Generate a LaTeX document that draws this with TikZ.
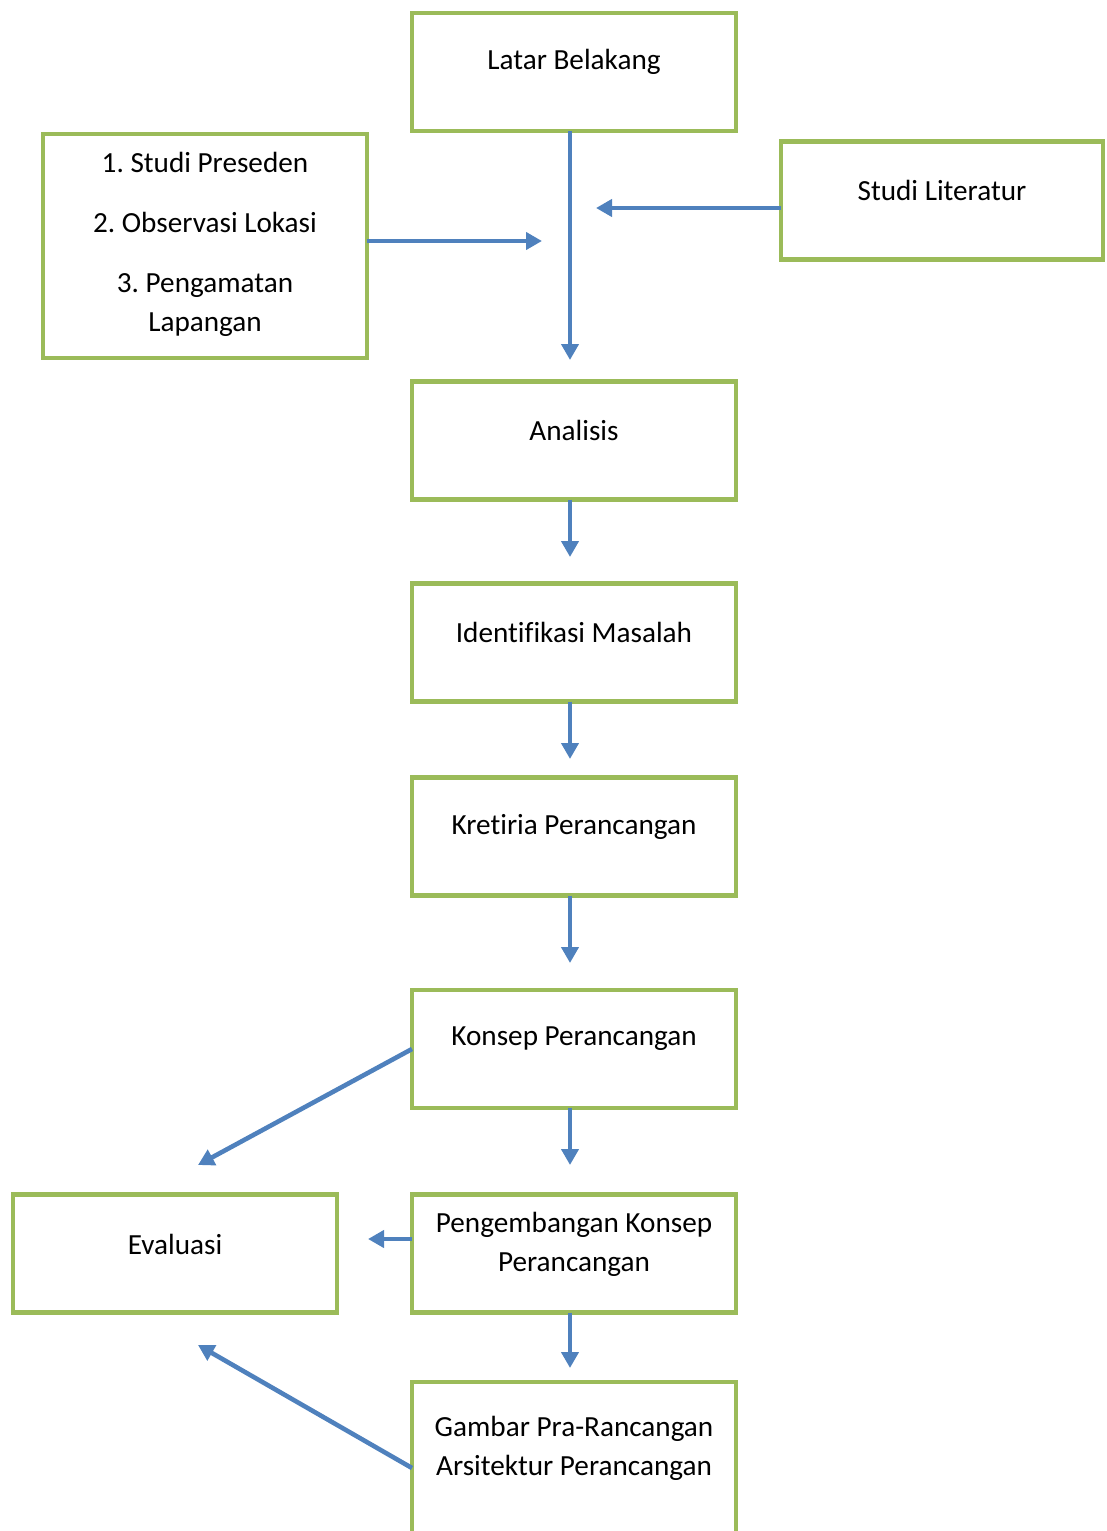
\documentclass[tikz,border=0pt]{standalone}
\usepackage{fontspec}
\setmainfont{Carlito}[Ligatures={NoCommon,NoContextual},RawFeature={-clig;-dlig}]
\usepackage{xcolor}
\definecolor{BoxGreen}{HTML}{9BBB59}
\definecolor{ArrowBlue}{HTML}{4F81BD}
\usetikzlibrary{positioning,arrows.meta}
\frenchspacing

\begin{document}
\begin{tikzpicture}[x=0.5pt,y=-0.5pt,
 box/.style={draw=BoxGreen,line width=2.4pt,fill=white,inner sep=0pt,outer sep=0pt,
  minimum width=162pt,minimum height=59pt},
 txt/.style={font=\fontsize{14.6}{19.5}\selectfont,align=center,inner sep=0pt},
 arr/.style={draw=ArrowBlue,line width=2.3pt,-{Triangle[length=8pt,width=8.5pt]}}]
\useasboundingbox (0,0) rectangle (1107,1531);
\clip (0,0) rectangle (1107,1531);
% boxes
\node[box] (lb) at (574,72) {};
\node[box,minimum height=112pt] (ps) at (205,246) {};
\node[box,minimum width=161pt] (sl) at (942,200.5) {};
\node[box] (an) at (574,440.5) {};
\node[box] (im) at (574,642.5) {};
\node[box] (kr) at (574,836.5) {};
\node[box] (ko) at (574,1049) {};
\node[box] (pk) at (574,1253.5) {};
\node[box] (ev) at (175,1253.5) {};
\node[box,minimum height=86pt] (gp) at (574,1468) {};
% texts
\node[txt] (lb-t) at (574,62) {Latar Belakang};
\node[txt] (ps-t) at (205,244) {1. Studi Preseden\\[10.5pt]2. Observasi Lokasi\\[10.5pt]3. Pengamatan\\Lapangan};
\node[txt] (sl-t) at (942,190) {Studi Literatur};
\node[txt] (an-t) at (574,430) {Analisis};
\node[txt] (im-t) at (574,632) {Identifikasi Masalah};
\node[txt] (kr-t) at (574,827) {Kretiria Perancangan};
\node[txt] (ko-t) at (574,1039) {Konsep Perancangan};
\node[txt] (pk-t) at (574,1244) {Pengembangan Konsep\\Perancangan};
\node[txt] (ev-t) at (175,1244) {Evaluasi};
\node[txt] (gp-t) at (574,1448) {Gambar Pra-Rancangan\\Arsitektur Perancangan};
% arrow ends
\coordinate (e-lb) at (570,360);
\coordinate (e-ps) at (542,241);
\coordinate (e-sl) at (596,208);
\coordinate (e-an) at (570,557);
\coordinate (e-im) at (570,759);
\coordinate (e-kr) at (570,963);
\coordinate (e-ko) at (570,1165);
\coordinate (e-kl) at (198,1165);
\coordinate (e-pl) at (368,1239);
\coordinate (e-pk) at (570,1368);
\coordinate (e-gp) at (198,1345);
% arrows
\foreach \b in {lb,an,im,kr,ko,pk} {
 \draw[arr] (\b.south -| e-\b) -- (e-\b);
}
\draw[arr] (ps.east |- e-ps) -- (e-ps);
\draw[arr] (sl.west |- e-sl) -- (e-sl);
\draw[arr] (ko.west) -- (e-kl);
\draw[arr] (pk.west |- e-pl) -- (e-pl);
\draw[arr] (gp.west) -- (e-gp);
\end{tikzpicture}
\end{document}
